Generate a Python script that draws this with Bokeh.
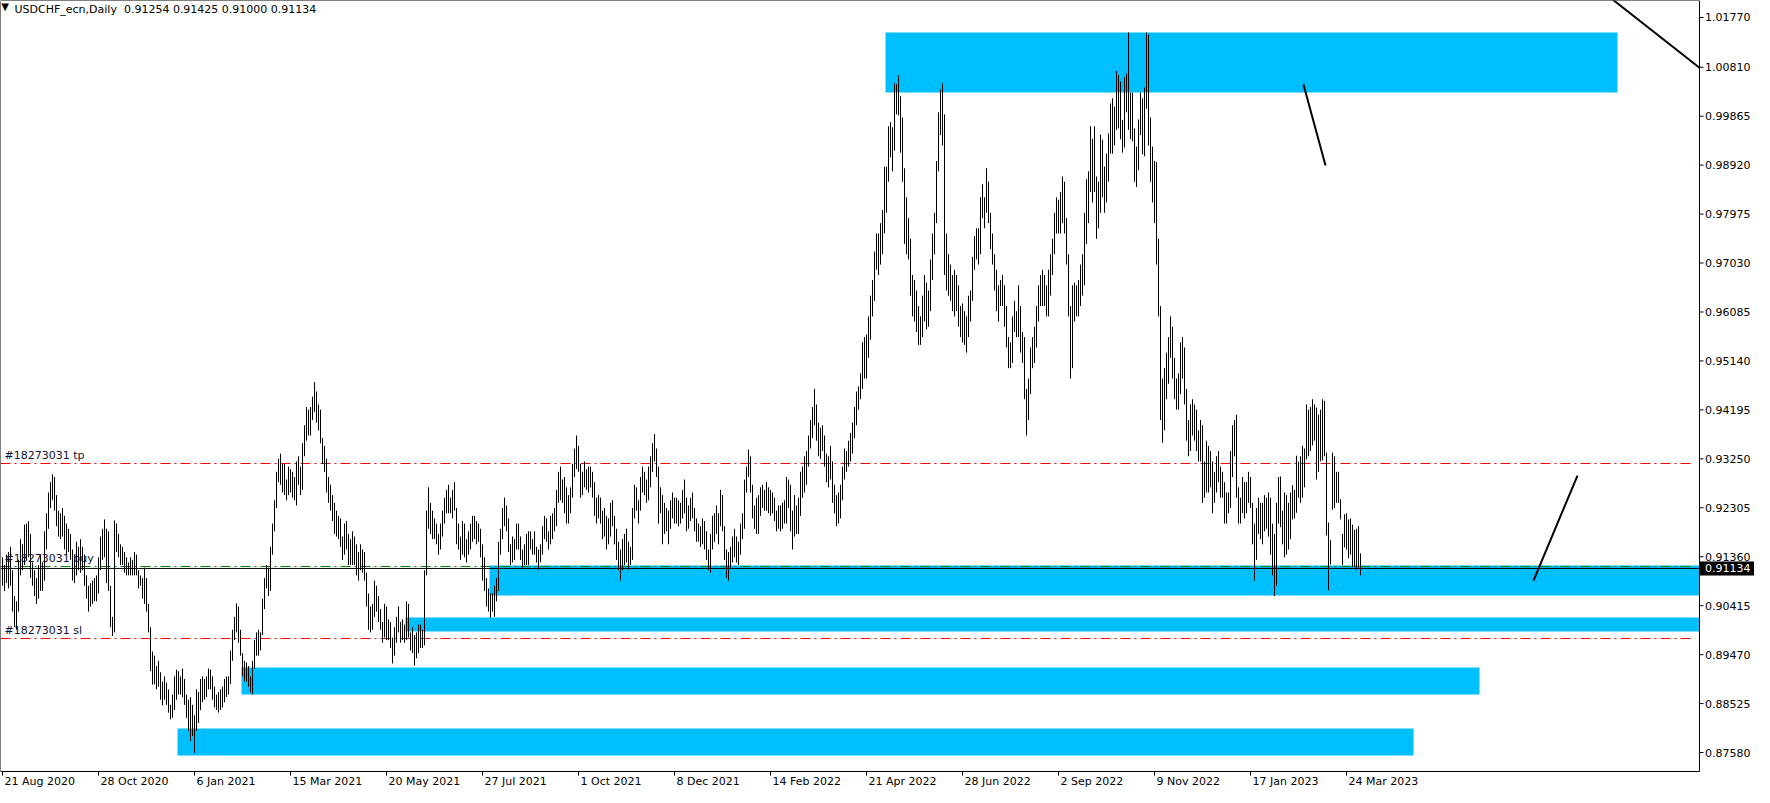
from bokeh.plotting import figure
from bokeh.models import Range1d
from bokeh.core.properties import value
from bokeh.embed import file_html
from bokeh.resources import INLINE

# ---------------- data ----------------
symbol_text = "USDCHF_ecn,Daily\u00a0\u00a00.91254 0.91425 0.91000 0.91134"
last_price = 0.91134

# daily bars as (high, low) in pips (price x 10000), one per trading day
hl_2020_aug_nov = [
    (9135, 9080), (9120, 9070), (9140, 9085), (9145, 9075), (9155, 9080), (9110, 9030), (9060, 9000), (9050, 8995), (9130, 9030), (9170, 9100),
    (9160, 9110), (9198, 9120), (9200, 9130), (9205, 9135), (9180, 9095), (9125, 9080), (9110, 9060), (9095, 9045), (9120, 9055), (9140, 9070),
    (9125, 9070), (9185, 9090), (9220, 9150), (9260, 9190), (9280, 9230), (9295, 9245), (9290, 9225), (9255, 9195), (9225, 9175), (9220, 9170),
    (9230, 9175), (9215, 9150), (9200, 9140), (9190, 9145), (9180, 9130), (9150, 9090), (9140, 9085), (9165, 9100), (9155, 9110), (9170, 9105),
    (9155, 9110), (9140, 9080), (9100, 9055), (9080, 9030), (9085, 9040), (9090, 9045), (9095, 9050), (9100, 9050), (9135, 9065), (9175, 9110),
    (9190, 9130), (9208, 9135), (9190, 9085), (9185, 9070), (9080, 9000), (9020, 8983),
]
hl_2020_nov_2021_jan = [
    (9206, 8990), (9200, 9145), (9180, 9135), (9160, 9120), (9155, 9120), (9145, 9105), (9135, 9100), (9125, 9100), (9135, 9100), (9130, 9100),
    (9145, 9100), (9140, 9100), (9110, 9075), (9100, 9080), (9095, 9055), (9115, 9045), (9095, 9030), (9045, 8990), (9000, 8915), (8953, 8889),
    (8945, 8890), (8925, 8880), (8935, 8885), (8913, 8860), (8895, 8849), (8905, 8860), (8893, 8850), (8880, 8835), (8850, 8822), (8870, 8825),
    (8905, 8840), (8918, 8860), (8915, 8870), (8905, 8870), (8920, 8865), (8900, 8850), (8870, 8825), (8860, 8800), (8865, 8780), (8850, 8790),
    (8830, 8757),
]
hl_2021_jan_mar = [
    (8880, 8800), (8875, 8815), (8900, 8840), (8905, 8855), (8900, 8860), (8905, 8865), (8920, 8880), (8918, 8880), (8905, 8860), (8885, 8845),
    (8870, 8840), (8875, 8835), (8880, 8840), (8885, 8845), (8900, 8855), (8905, 8865), (8905, 8870), (8955, 8890), (8995, 8935), (9020, 8975),
    (9046, 8990), (9040, 8970), (8995, 8945), (8950, 8905), (8935, 8895), (8932, 8895), (8925, 8885), (8905, 8874), (8935, 8870), (8975, 8920),
    (8990, 8945), (8995, 8945), (8990, 8955), (9055, 8985), (9095, 9035), (9120, 9075), (9115, 9060), (9155, 9070), (9200, 9140), (9245, 9185),
    (9300, 9230), (9325, 9280), (9335, 9275), (9315, 9260), (9315, 9255), (9285, 9245), (9310, 9255), (9305, 9260), (9300, 9250), (9290, 9245),
    (9320, 9235), (9330, 9275), (9310, 9255), (9355, 9265), (9390, 9330), (9425, 9360), (9420, 9370), (9425, 9370), (9445, 9400), (9473, 9415),
]
hl_2021_apr_jul = [
    (9455, 9395), (9430, 9380), (9420, 9355), (9365, 9315), (9350, 9300), (9325, 9260), (9290, 9240), (9275, 9225), (9255, 9205), (9240, 9180),
    (9225, 9175), (9215, 9170), (9210, 9155), (9175, 9130), (9200, 9140), (9205, 9150), (9180, 9120), (9170, 9120), (9185, 9120), (9175, 9120),
    (9160, 9100), (9145, 9090), (9160, 9110), (9150, 9105), (9145, 9090), (9105, 9040), (9065, 8995), (9040, 8990), (9045, 8995), (9090, 9020),
    (9080, 9030), (9060, 9010), (9035, 8995), (9010, 8970), (9045, 8980), (9040, 8975), (9015, 8975), (9010, 8960), (8980, 8930), (9000, 8945),
    (9020, 8970), (9040, 8990), (9010, 8970), (9015, 8975), (9005, 8970), (9050, 8975), (9045, 8980), (8990, 8955), (9000, 8950), (8985, 8926),
    (8990, 8940), (9005, 8950), (9005, 8960), (8995, 8960), (9110, 8965), (9225, 9100), (9270, 9190), (9240, 9180), (9225, 9170), (9210, 9170),
    (9200, 9160), (9180, 9140), (9200, 9150), (9225, 9175), (9250, 9200), (9265, 9220), (9275, 9220), (9250, 9220), (9265, 9210), (9280, 9225),
    (9230, 9160), (9200, 9150), (9175, 9130), (9205, 9140), (9200, 9135), (9170, 9125), (9185, 9140), (9200, 9150), (9215, 9165), (9215, 9170),
    (9205, 9160), (9200, 9165), (9190, 9135), (9160, 9090),
]
hl_2021_jul_dec = [
    (9135, 9070), (9095, 9040), (9075, 9030), (9065, 9018), (9065, 9030), (9080, 9020), (9095, 9050), (9165, 9070), (9190, 9140), (9230, 9170),
    (9250, 9195), (9235, 9185), (9210, 9145), (9160, 9120), (9175, 9125), (9170, 9130), (9200, 9150), (9200, 9150), (9175, 9130), (9150, 9115),
    (9160, 9120), (9180, 9120), (9185, 9120), (9185, 9150), (9170, 9140), (9185, 9140), (9155, 9125), (9150, 9110), (9160, 9125), (9195, 9140),
    (9215, 9170), (9210, 9165), (9185, 9150), (9215, 9160), (9220, 9170), (9230, 9185), (9265, 9195), (9300, 9240), (9310, 9245), (9285, 9240),
    (9290, 9220), (9270, 9200), (9255, 9200), (9270, 9220), (9315, 9250), (9345, 9290), (9370, 9305), (9350, 9300), (9315, 9250), (9300, 9255),
    (9320, 9270), (9305, 9265), (9310, 9260), (9310, 9270), (9300, 9250), (9280, 9215), (9250, 9200), (9255, 9210), (9250, 9200), (9225, 9170),
    (9230, 9175), (9215, 9150), (9210, 9160), (9240, 9175), (9245, 9195), (9215, 9160), (9190, 9130), (9165, 9110), (9150, 9090), (9170, 9110),
    (9180, 9120), (9190, 9125), (9165, 9110), (9155, 9120), (9230, 9130), (9275, 9210), (9270, 9225), (9245, 9200), (9290, 9225), (9310, 9260),
    (9300, 9255), (9285, 9240), (9310, 9245), (9330, 9270), (9355, 9300), (9373, 9320), (9345, 9290), (9310, 9200), (9270, 9220), (9255, 9160),
    (9240, 9180), (9230, 9185), (9225, 9160), (9245, 9190), (9260, 9210), (9250, 9200),
]
hl_2021_dec_2022_apr = [
    (9250, 9200), (9245, 9195), (9240, 9200), (9265, 9210), (9285, 9220), (9250, 9185), (9235, 9190), (9250, 9205), (9260, 9210), (9230, 9185),
    (9210, 9165), (9200, 9165), (9195, 9155), (9210, 9160), (9205, 9150), (9185, 9130), (9150, 9110), (9180, 9105), (9215, 9150), (9220, 9165),
    (9235, 9180), (9220, 9160), (9265, 9195), (9255, 9185), (9195, 9130), (9150, 9095), (9145, 9090), (9155, 9115), (9175, 9125), (9190, 9135),
    (9175, 9125), (9165, 9120), (9200, 9140), (9220, 9170), (9285, 9190), (9310, 9260), (9343, 9290), (9330, 9260), (9275, 9210), (9235, 9190),
    (9250, 9180), (9255, 9180), (9270, 9215), (9275, 9230), (9265, 9225), (9280, 9225), (9270, 9220), (9265, 9215), (9260, 9220), (9250, 9205),
    (9225, 9185), (9235, 9190), (9235, 9185), (9240, 9190), (9245, 9200), (9290, 9200), (9285, 9230), (9275, 9185), (9225, 9150), (9255, 9175),
    (9235, 9180), (9250, 9180), (9300, 9215), (9310, 9250), (9330, 9260), (9340, 9275), (9370, 9310), (9400, 9345), (9425, 9365), (9460, 9390),
    (9430, 9360), (9395, 9330), (9385, 9325), (9390, 9340), (9370, 9310), (9335, 9280), (9330, 9270), (9350, 9285), (9320, 9240), (9275, 9220),
    (9255, 9195), (9260, 9200), (9275, 9210), (9310, 9245), (9345, 9285), (9340, 9300), (9360, 9310), (9375, 9320), (9395, 9335), (9425, 9365),
    (9455, 9390), (9465, 9420), (9490, 9440), (9550, 9460), (9560, 9480), (9565, 9480),
]
hl_2022_apr_sep = [
    (9600, 9520), (9640, 9555), (9670, 9600), (9725, 9630), (9760, 9690), (9760, 9680), (9780, 9700), (9805, 9720), (9889, 9760), (9889, 9800),
    (9967, 9860), (9975, 9907), (9965, 9880), (10050, 9920), (10048, 9990), (10065, 9988), (10025, 9916), (9984, 9860), (9886, 9740), (9830, 9720),
    (9790, 9710), (9750, 9640), (9680, 9600), (9670, 9590), (9650, 9570), (9620, 9545), (9600, 9545), (9640, 9560), (9680, 9590), (9665, 9575),
    (9650, 9580), (9710, 9610), (9760, 9670), (9800, 9720), (9900, 9780), (9994, 9880), (10038, 9950), (10050, 9930), (9990, 9680), (9760, 9650),
    (9720, 9640), (9700, 9630), (9680, 9610), (9690, 9600), (9680, 9610), (9660, 9580), (9620, 9560), (9625, 9550), (9610, 9545), (9600, 9530),
    (9640, 9560), (9650, 9590), (9715, 9630), (9755, 9690), (9770, 9710), (9770, 9700), (9830, 9720), (9855, 9790), (9830, 9770), (9886, 9800),
    (9860, 9780), (9800, 9730), (9760, 9700), (9720, 9650), (9690, 9610), (9660, 9590), (9670, 9620), (9680, 9620), (9660, 9580), (9620, 9540),
    (9560, 9500), (9550, 9500), (9600, 9510), (9630, 9570), (9610, 9560), (9660, 9560), (9620, 9530), (9570, 9510), (9560, 9440), (9460, 9370),
    (9480, 9400), (9540, 9450), (9560, 9500), (9580, 9510), (9620, 9540), (9660, 9590), (9680, 9620), (9690, 9620), (9680, 9620), (9660, 9600),
    (9690, 9600), (9720, 9640), (9750, 9680), (9800, 9720), (9830, 9760), (9825, 9760),
]
hl_2022_sep_2023_jan = [
    (9840, 9760), (9870, 9780), (9860, 9760), (9790, 9700), (9720, 9600), (9620, 9480), (9660, 9500), (9665, 9590), (9660, 9600), (9670, 9600),
    (9700, 9620), (9720, 9640), (9800, 9660), (9865, 9740), (9880, 9780), (9967, 9840), (9943, 9820), (9967, 9840), (9870, 9750), (9860, 9770),
    (9951, 9800), (9941, 9830), (9889, 9800), (9914, 9820), (9953, 9860), (10011, 9914), (10021, 9914), (10005, 9930), (10074, 9960), (10066, 9963),
    (10053, 9942), (9979, 9916), (10062, 9926), (10069, 9994), (10148, 9960), (10032, 9942), (10032, 9938), (9963, 9860), (9928, 9850), (9980, 9882),
    (10032, 9950), (10021, 9913), (10042, 9909), (10148, 10001), (10144, 9930), (9984, 9860), (9928, 9820), (9900, 9780), (9898, 9700), (9750, 9600),
    (9620, 9400), (9480, 9356), (9500, 9380), (9530, 9440), (9560, 9470), (9600, 9520), (9580, 9480), (9520, 9440), (9480, 9420), (9490, 9420),
    (9550, 9450), (9560, 9480), (9540, 9430), (9460, 9360), (9400, 9330), (9430, 9340), (9440, 9370), (9430, 9360), (9420, 9340), (9380, 9320),
    (9400, 9320), (9390, 9240), (9320, 9250), (9360, 9260), (9350, 9260), (9340, 9270), (9320, 9220), (9300, 9240), (9330, 9260), (9340, 9280),
    (9310, 9250), (9300, 9250), (9280, 9200), (9260, 9200), (9260, 9220), (9340, 9230), (9390, 9290), (9400, 9330), (9410, 9250), (9270, 9200),
    (9250, 9200), (9290, 9220), (9280, 9210), (9280, 9220), (9300, 9240), (9290, 9230),
]
hl_2023_jan_apr = [
    (9240, 9160), (9200, 9090), (9230, 9130), (9250, 9180), (9240, 9170), (9240, 9160), (9255, 9185), (9250, 9190), (9260, 9175), (9250, 9140),
    (9200, 9100), (9180, 9060), (9240, 9080), (9290, 9200), (9291, 9193), (9225, 9160), (9260, 9135), (9255, 9140), (9240, 9150), (9260, 9170),
    (9274, 9208), (9265, 9210), (9331, 9221), (9320, 9250), (9330, 9240), (9350, 9250), (9345, 9270), (9430, 9324), (9420, 9330), (9425, 9340),
    (9440, 9351), (9430, 9360), (9424, 9285), (9410, 9300), (9420, 9320), (9440, 9322), (9437, 9330), (9337, 9177), (9202, 9071), (9168, 9121),
    (9337, 9227), (9330, 9230), (9300, 9240), (9300, 9240), (9247, 9208), (9180, 9120), (9218, 9154), (9220, 9150), (9208, 9133), (9210, 9140),
    (9198, 9116), (9188, 9116), (9190, 9110), (9195, 9115), (9142.5, 9100),
]

date_tick_bars = [0, 48, 96, 144, 192, 240, 288, 336, 384, 432, 480, 528, 576, 624, 672]
date_tick_labels = ["21 Aug 2020", "28 Oct 2020", "6 Jan 2021", "15 Mar 2021", "20 May 2021",
                    "27 Jul 2021", "1 Oct 2021", "8 Dec 2021", "14 Feb 2022", "21 Apr 2022",
                    "28 Jun 2022", "2 Sep 2022", "9 Nov 2022", "17 Jan 2023", "24 Mar 2023"]
price_ticks = [1.01770, 1.00810, 0.99865, 0.98920, 0.97975, 0.97030, 0.96085, 0.95140,
               0.94195, 0.93250, 0.92305, 0.91360, 0.90415, 0.89470, 0.88525, 0.87580]

# supply / demand zones (bar index span, price span); 9999 = runs to the right edge
zone_left = [441.5, 243.5, 201.5, 119.5, 87.5]
zone_right = [807.5, 9999, 9999, 738.5, 705.5]
zone_top = [1.01480, 0.91191, 0.90187, 0.89222, 0.88044]
zone_bottom = [1.00322, 0.90612, 0.89917, 0.88701, 0.87523]

# order levels
order_levels = [0.93160, 0.91172, 0.89782]
order_names = ["#18273031 tp", "#18273031 buy", "#18273031 sl"]
order_colors = ["#ff0000", "#008000", "#ff0000"]

# trend lines (bar index, price)
trend_x0 = [802.5, 650.5, 765.5]
trend_y0 = [1.02195, 1.00477, 0.90901]
trend_x1 = [851.5, 661.5, 787.5]
trend_y1 = [1.00708, 0.98913, 0.92928]

# ---------------- layout ----------------
W, H = 1754, 787          # canvas
PX = 2.0                  # pixels per bar
X0 = -1.0                 # bar index at the canvas left edge
YS = 5180.0               # pixels per price unit
P_FLOOR = 0.87214         # price at the chart's bottom border
CY_FLOOR = 771.0          # canvas y of the bottom border
CX_RIGHT = 1699.0         # canvas x of the price-scale border


def idx_at(cx):
    return X0 + cx / PX


def price_at(cy):
    return P_FLOOR + (CY_FLOOR - cy) / YS


FONT = value("DejaVu Sans")
FS = value("11px")

all_bars = (hl_2020_aug_nov + hl_2020_nov_2021_jan + hl_2021_jan_mar + hl_2021_apr_jul +
            hl_2021_jul_dec + hl_2021_dec_2022_apr + hl_2022_apr_sep + hl_2022_sep_2023_jan +
            hl_2023_jan_apr)
bar_index = list(range(len(all_bars)))
highs = [h / 10000.0 for h, l in all_bars]
lows = [l / 10000.0 for h, l in all_bars]

x_left = idx_at(0)
x_right = idx_at(CX_RIGHT)
y_top = price_at(0)
y_bot = P_FLOOR

p = figure(width=W, height=H, x_range=Range1d(idx_at(0), idx_at(W)),
           y_range=Range1d(price_at(H), price_at(0)),
           x_axis_location=None, y_axis_location=None,
           output_backend="svg", toolbar_location=None, min_border=0,
           background_fill_color="white", border_fill_color="white")
p.grid.visible = False
p.outline_line_color = None

# zones
p.quad(left=zone_left, right=[min(r, x_right) for r in zone_right],
       top=zone_top, bottom=zone_bottom, fill_color="#00bfff", line_color=None)

# order lines and current price line
n_lv = len(order_levels)
p.segment(x0=[x_left] * n_lv, x1=[x_right - 5 / PX] * n_lv, y0=order_levels, y1=order_levels,
          line_color=order_colors, line_width=1, line_dash="10 4 2 4")
p.segment(x0=[x_left], x1=[x_right], y0=[last_price], y1=[last_price],
          line_color="black", line_width=1)

# trend lines clipped at the price scale
tx1, ty1 = [], []
for a, b, c, d in zip(trend_x0, trend_y0, trend_x1, trend_y1):
    if c > x_right:
        d = b + (d - b) * (x_right - a) / (c - a)
        c = x_right
    tx1.append(c)
    ty1.append(d)
p.segment(x0=trend_x0, y0=trend_y0, x1=tx1, y1=ty1, line_color="black", line_width=2)

# price bars
p.segment(x0=bar_index, y0=lows, x1=bar_index, y1=highs, line_color="black", line_width=1)

# order labels
p.text(x=[idx_at(4)] * n_lv, y=[lv + 1.5 / YS for lv in order_levels], text=order_names,
       text_baseline="bottom", text_align="left", text_font=FONT, text_font_size=FS,
       text_color="#101030")

# chart frame
p.segment(x0=[x_left, x_left, x_right, x_left], y0=[y_bot, y_top, y_bot, y_bot],
          x1=[x_left, x_right, x_right, x_right], y1=[y_top, y_top, y_top, y_bot],
          line_color="black", line_width=1)

# price scale
n_pt = len(price_ticks)
p.segment(x0=[x_right] * n_pt, x1=[x_right + 4 / PX] * n_pt, y0=price_ticks, y1=price_ticks,
          line_color="black", line_width=1)
p.text(x=[x_right + 5.5 / PX] * n_pt, y=price_ticks, text=["%.5f" % t for t in price_ticks],
       text_baseline="middle", text_align="left", text_font=FONT, text_font_size=FS,
       text_color="black")

# current price tag
p.quad(left=[x_right + 0.5 / PX], right=[idx_at(W + 5)],
       top=[last_price + 7 / YS], bottom=[last_price - 7 / YS],
       fill_color="black", line_color=None)
p.text(x=[x_right + 5.5 / PX], y=[last_price], text=["%.5f" % last_price],
       text_baseline="middle", text_align="left", text_font=FONT, text_font_size=FS,
       text_color="white")

# time scale
n_dt = len(date_tick_bars)
p.segment(x0=date_tick_bars, x1=date_tick_bars, y0=[y_bot] * n_dt, y1=[price_at(CY_FLOOR + 4)] * n_dt,
          line_color="black", line_width=1)
p.text(x=[b + 2 / PX for b in date_tick_bars], y=[price_at(781)] * n_dt, text=date_tick_labels,
       text_baseline="alphabetic", text_align="left", text_font=FONT, text_font_size=FS,
       text_color="black")

# header
p.text(x=[idx_at(4.5)], y=[price_at(5.5)], text=["\u25bc"], text_baseline="middle",
       text_align="center", text_font=FONT, text_font_size=value("10px"), text_color="black")
p.text(x=[idx_at(14)], y=[price_at(9.3)], text=[symbol_text], text_baseline="alphabetic",
       text_align="left", text_font=FONT, text_font_size=FS, text_color="black")

open("out.html", "w").write(file_html(p, INLINE))
